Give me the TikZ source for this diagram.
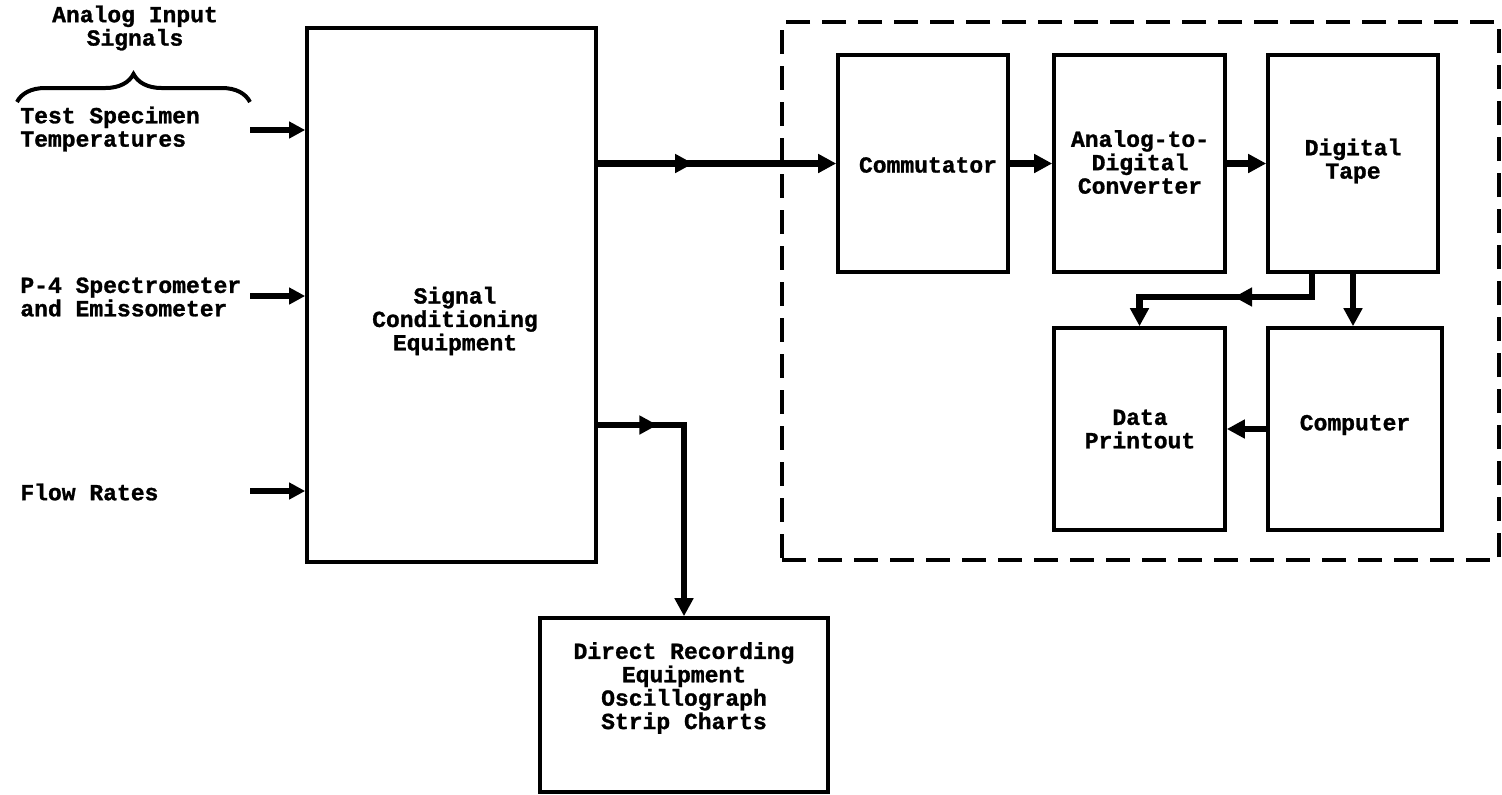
\documentclass[tikz,border=0pt]{standalone}
\usepackage{fontspec}
\setmainfont{Liberation Mono}[BoldFeatures={FakeBold=1.2}]
\usetikzlibrary{arrows.meta,positioning,calc,decorations.pathreplacing,decorations.markings}

\tikzset{
  blk/.style={draw, line width=1.8pt, inner sep=0pt},
  lbl/.style={align=center, inner sep=0pt},
  flow/.style={line width=3.4pt, -{Triangle[length=9pt,width=9pt]}},
  feed/.style={line width=2.6pt, -{Triangle[length=8pt,width=8pt]}},
  midarrow/.style={postaction={decorate}, decoration={markings,
      mark=at position #1 with {\arrow{Triangle[length=9pt,width=9pt]}}}},
}

\begin{document}
\begin{tikzpicture}[x=0.5pt, y=-0.5pt, every node/.style={font=\fontsize{11.5}{11.7}\selectfont\bfseries}]
\useasboundingbox (0,0) rectangle (1502,794);

% boxes
\node[blk, minimum width=144.5pt, minimum height=267pt] (sig) at (451.5,295) {};
\node[blk, minimum width=85pt, minimum height=108.5pt] (comm) at (923,163.5) {};
\node[blk, minimum width=85.5pt, minimum height=108.5pt] (adc) at (1139.5,163.5) {};
\node[blk, minimum width=85pt, minimum height=108.5pt] (tape) at (1353,163.5) {};
\node[blk, minimum width=85.5pt, minimum height=101pt] (print) at (1139.5,429) {};
\node[blk, minimum width=87pt, minimum height=101pt] (comp) at (1355,429) {};
\node[blk, minimum width=144pt, minimum height=87pt] (rec) at (684,705) {};
\node[draw, line width=1.6pt, dash pattern=on 12pt off 6pt, minimum width=358.5pt, minimum height=269pt] (digsys) at (1140.5,291) {};

% texts
\node[lbl] (analog) at (135,28) {Analog Input\\Signals};
\node[lbl, anchor=west, align=left] (temp) at (20,129) {Test Specimen\\Temperatures};
\node[lbl, anchor=west, align=left] (spec) at (20,297) {P-4 Spectrometer\\and Emissometer};
\node[lbl, anchor=west] (rates) at (20,492) {Flow Rates};
\node[lbl] (sigt) at (455,321) {Signal\\Conditioning\\Equipment};
\node[lbl] (commt) at (928,165) {Commutator};
\node[lbl] (adct) at (1140,162) {Analog-to-\\Digital\\Converter};
\node[lbl] (tapet) at (1353,161) {Digital\\Tape};
\node[lbl] (printt) at (1140,429) {Data\\Printout};
\node[lbl] (compt) at (1355,425) {Computer};
\node[lbl] (rect) at (684,688) {Direct Recording\\Equipment\\Oscillograph\\Strip Charts};

% brace over the inputs
\coordinate (bracel) at (17,102);
\coordinate (bracer) at (250,102);
\draw[line width=2pt, decorate, decoration={brace, amplitude=14pt}] (bracel) -- (bracer);

% inputs
\coordinate (tempin) at (250,130);
\coordinate (specin) at (250,296);
\coordinate (ratesin) at (250,491);
\draw[feed] (tempin) -- (tempin -| sig.west);
\draw[feed] (specin) -- (specin -| sig.west);
\draw[feed] (ratesin) -- (ratesin -| sig.west);

% signal paths
\coordinate (split) at (1312,297);
\coordinate (rectap) at (596,425);
\draw[flow, midarrow=0.4] (sig.east |- comm.west) -- (comm.west);
\draw[flow] (comm) -- (adc);
\draw[flow] (adc) -- (tape);
\draw[flow] (tape.south) -- (tape.south |- comp.north);
\draw[flow, midarrow=0.45] (tape.south -| split) |- (print.north |- split) -- (print.north);
\draw[flow] (comp) -- (print);
\draw[flow, midarrow=0.22] (rectap) -| (rec.north);
\end{tikzpicture}
\end{document}
